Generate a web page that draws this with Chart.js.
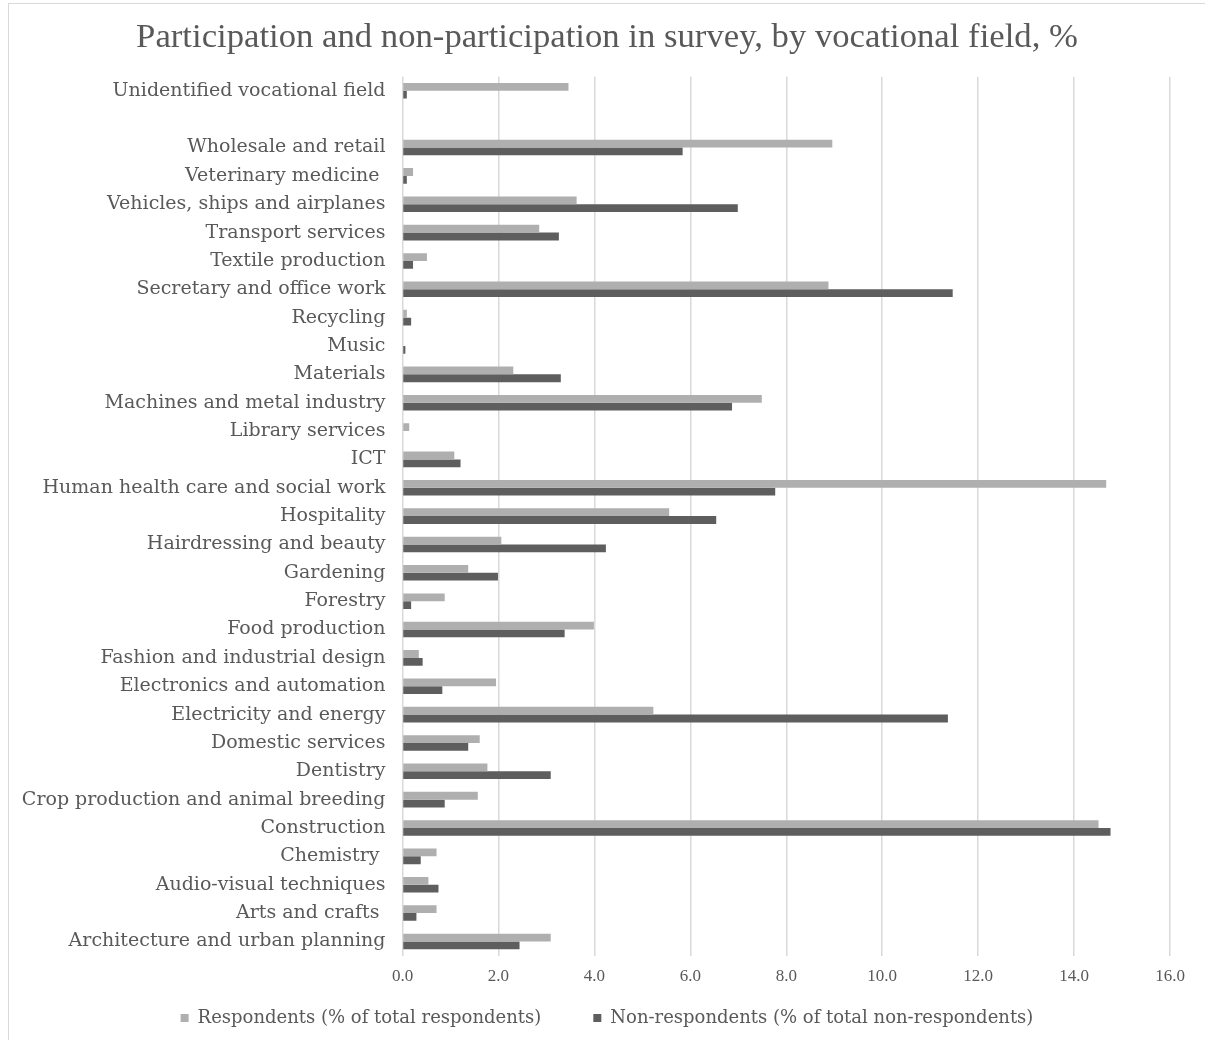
<!DOCTYPE html>
<html>
<head>
<meta charset="utf-8">
<script src="https://cdn.jsdelivr.net/npm/chart.js@4.4.1/dist/chart.umd.min.js"></script>
<style>
  html, body { margin: 0; padding: 0; background: #ffffff; }
  #wrap { position: relative; width: 1205px; height: 1040px; overflow: hidden; background: #fff; }
  #frame { position: absolute; left: 8px; top: 3px; width: 1300px; height: 1100px; border-left: 1px solid #d9d9d9; border-top: 1px solid #d9d9d9; pointer-events: none; }
  canvas { position: absolute; left: 0; top: 0; }
</style>
</head>
<body>
<div id="wrap">
  <canvas id="c" width="1205" height="1040"></canvas>
  <div id="frame"></div>
</div>
<script>
const titleText = "Participation and non-participation in survey, by vocational field, %";

const categories = [
  "Unidentified vocational field",
  "",
  "Wholesale and retail",
  "Veterinary medicine ",
  "Vehicles, ships and airplanes",
  "Transport services",
  "Textile production",
  "Secretary and office work",
  "Recycling",
  "Music",
  "Materials",
  "Machines and metal industry",
  "Library services",
  "ICT",
  "Human health care and social work",
  "Hospitality",
  "Hairdressing and beauty",
  "Gardening",
  "Forestry",
  "Food production",
  "Fashion and industrial design",
  "Electronics and automation",
  "Electricity and energy",
  "Domestic services",
  "Dentistry",
  "Crop production and animal breeding",
  "Construction",
  "Chemistry ",
  "Audio-visual techniques",
  "Arts and crafts ",
  "Architecture and urban planning"
];

const respondents = [
  3.46, null, 8.96, 0.22, 3.63, 2.85, 0.51, 8.88, 0.09, 0.00,
  2.31, 7.49, 0.14, 1.08, 14.67, 5.56, 2.06, 1.37, 0.88, 3.99,
  0.34, 1.95, 5.23, 1.61, 1.77, 1.57, 14.51, 0.71, 0.54, 0.71, 3.09
];

const nonRespondents = [
  0.09, null, 5.84, 0.09, 6.99, 3.26, 0.22, 11.47, 0.18, 0.06,
  3.30, 6.87, 0.00, 1.21, 7.77, 6.54, 4.24, 1.99, 0.18, 3.38,
  0.42, 0.83, 11.37, 1.37, 3.09, 0.88, 14.76, 0.38, 0.75, 0.29, 2.44
];

const seriesNames = ["Respondents (% of total respondents)", "Non-respondents (% of total non-respondents)"];
const xTicks = { min: 0, max: 16, step: 2 };

const textGray = "#595959";

new Chart(document.getElementById("c"), {
  type: "bar",
  data: {
    labels: categories,
    datasets: [
      { label: seriesNames[0], data: respondents, backgroundColor: "#afafaf", borderWidth: 0,
        categoryPercentage: 0.55, barPercentage: 1.0 },
      { label: seriesNames[1], data: nonRespondents, backgroundColor: "#5e5e5e", borderWidth: 0,
        categoryPercentage: 0.55, barPercentage: 1.0 }
    ]
  },
  options: {
    indexAxis: "y",
    responsive: false,
    animation: false,
    layout: { padding: { left: 44, right: 35, top: 0, bottom: 3 } },
    plugins: {
      title: {
        display: true,
        text: titleText,
        color: textGray,
        font: { family: "'Liberation Serif', serif", size: 34.7, weight: "normal" },
        padding: { top: 17, bottom: 18 }
      },
      legend: {
        display: true,
        position: "bottom",
        labels: {
          color: textGray,
          font: { family: "'DejaVu Serif', serif", size: 18 },
          boxWidth: 8,
          boxHeight: 8,
          padding: 12,
          generateLabels: function(chart) {
            const items = Chart.defaults.plugins.legend.labels.generateLabels(chart);
            items[0].text = items[0].text + "       ";
            return items;
          }
        }
      },
      tooltip: { enabled: false }
    },
    scales: {
      x: {
        min: xTicks.min,
        max: xTicks.max,
        ticks: {
          stepSize: xTicks.step,
          color: textGray,
          font: { family: "'Liberation Serif', serif", size: 17 },
          padding: 10.5,
          callback: function(v) { return Number(v).toFixed(1); }
        },
        grid: { color: "#d9d9d9", lineWidth: 1.5, drawTicks: false },
        border: { display: false }
      },
      y: {
        ticks: {
          color: textGray,
          font: { family: "'DejaVu Serif', serif", size: 19 },
          padding: 17,
          autoSkip: false
        },
        grid: { display: false, drawTicks: false },
        border: { display: false },
        afterFit: function(scale) {
          scale.width = 358.5;
          scale._computeLabelArea = function() { return null; };
        }
      }
    }
  }
});
</script>
</body>
</html>
